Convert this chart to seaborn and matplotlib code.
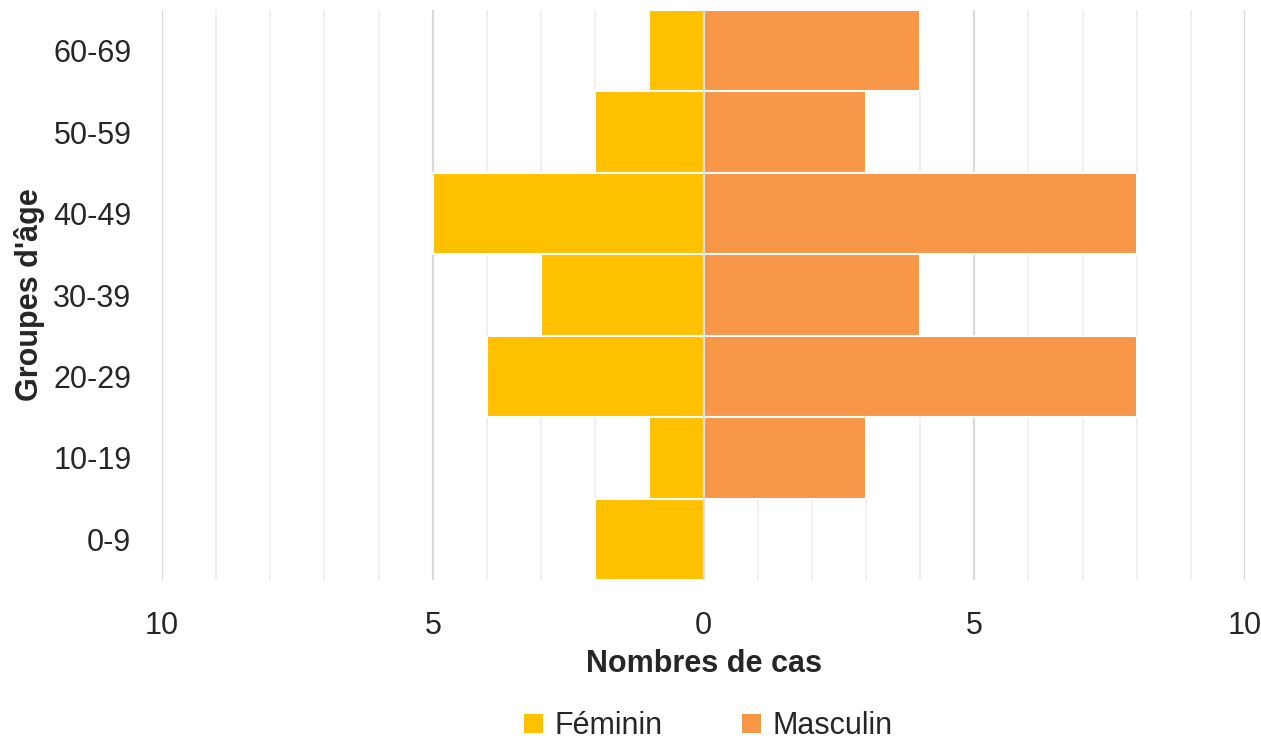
import matplotlib
matplotlib.use("Agg")
import matplotlib.pyplot as plt
from matplotlib.ticker import MultipleLocator, FuncFormatter
from matplotlib.patches import Patch
import seaborn as sns
import pandas as pd

# Age groups, top to bottom
age_groups = ["60-69", "50-59", "40-49", "30-39", "20-29", "10-19", "0-9"]
feminin = [1, 2, 5, 3, 4, 1, 2]
masculin = [4, 3, 8, 4, 8, 3, 0]
series_names = ["Féminin", "Masculin"]
series_colors = ["#FFC000", "#F79646"]

df = pd.DataFrame({
    "age": age_groups * 2,
    "cas": [-v for v in feminin] + masculin,
    "sexe": [series_names[0]] * len(age_groups) + [series_names[1]] * len(age_groups),
})

sns.set_theme(style="white")
plt.rcParams["font.family"] = ["Liberation Sans Narrow", "Liberation Sans", "DejaVu Sans"]

fig = plt.figure(figsize=(12.61, 7.42), dpi=100)
ax = fig.add_axes([0.1285, 0.2183, 0.8588, 0.7682])

sns.barplot(data=df, y="age", x="cas", hue="sexe", order=age_groups,
            hue_order=series_names, palette=series_colors, saturation=1,
            dodge=False, width=1.0, edgecolor="white", linewidth=1.5,
            orient="h", legend=False, ax=ax, zorder=3)

ax.set_xlim(-10, 10)
ax.set_ylim(len(age_groups) - 0.5, -0.5)
ax.xaxis.set_major_locator(MultipleLocator(5))
ax.xaxis.set_minor_locator(MultipleLocator(1))
ax.xaxis.set_major_formatter(FuncFormatter(lambda v, p: f"{abs(v):g}"))
ax.set_axisbelow(True)
ax.grid(which="major", axis="x", color="#d9d9d9", linewidth=1.6)
ax.grid(which="minor", axis="x", color="#efefef", linewidth=1.4)
ax.grid(False, axis="y")
ax.axvline(0, color="#d9d9d9", linewidth=1.2, zorder=4)

for s in ax.spines.values():
    s.set_visible(False)
ax.tick_params(axis="both", which="both", length=0, labelsize=22, colors="#262626")
ax.tick_params(axis="x", pad=22)
ax.tick_params(axis="y", pad=22)

ax.set_xlabel("Nombres de cas", fontsize=22, fontweight="bold", color="#262626", labelpad=6)
ax.set_ylabel("Groupes d'âge", fontsize=22, fontweight="bold", color="#262626", labelpad=6)

handles = [Patch(facecolor=c, edgecolor="none", label=n) for n, c in zip(series_names, series_colors)]
fig.legend(handles=handles, loc="lower center", bbox_to_anchor=(0.562, -0.036), ncol=2,
           frameon=False, fontsize=22, handlelength=0.6, handleheight=0.6,
           handletextpad=0.4, columnspacing=2.6, labelcolor="#262626")

fig.savefig("out.png", dpi=100)
